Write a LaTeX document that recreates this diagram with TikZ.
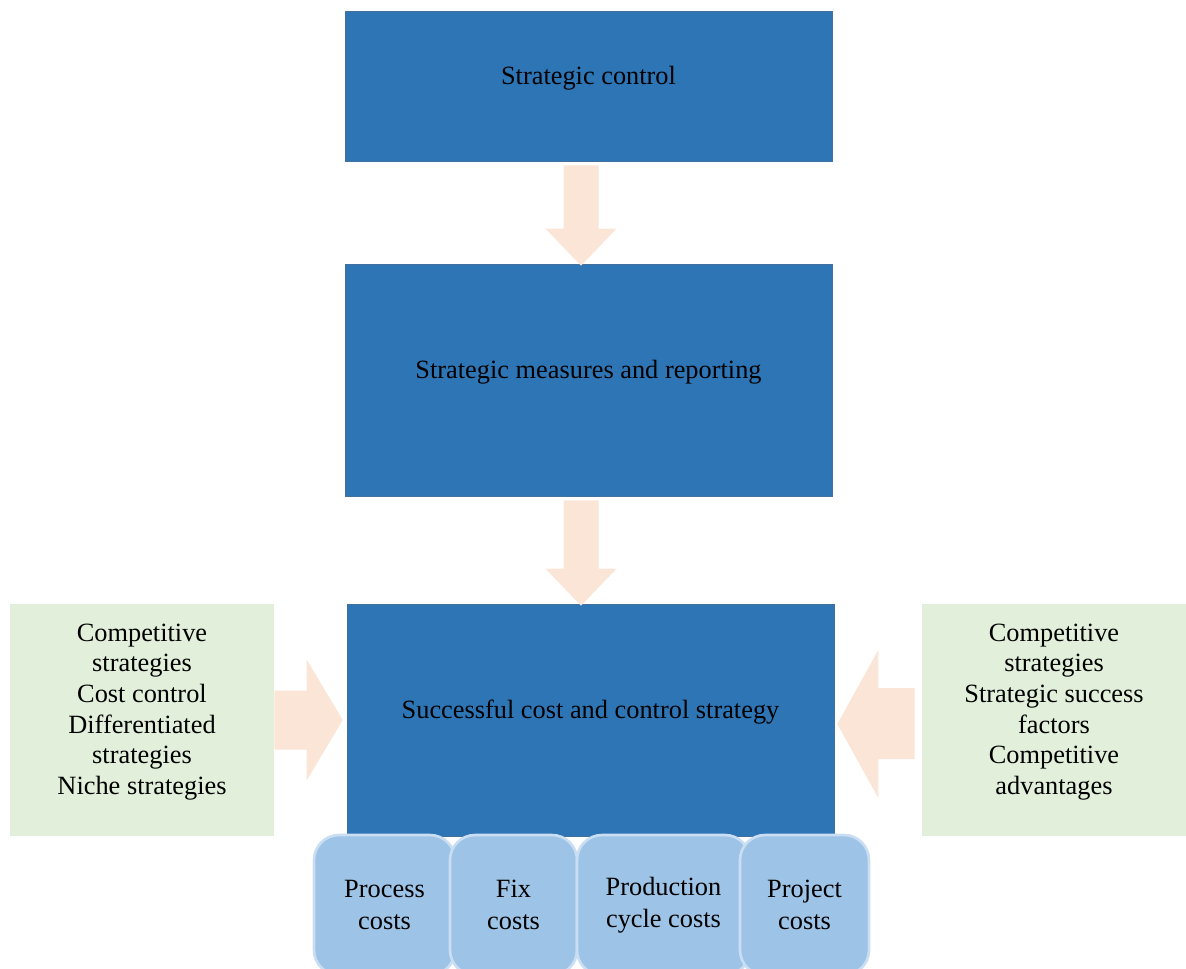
\documentclass[tikz,border=0pt]{standalone}
\usepackage{fontspec}
\setmainfont{Liberation Serif}
\usetikzlibrary{calc}

\definecolor{boxblue}{HTML}{2E75B6}
\definecolor{boxedge}{HTML}{41719C}
\definecolor{arrowpeach}{HTML}{FBE5D6}
\definecolor{sidegreen}{HTML}{E2EFDA}
\definecolor{costblue}{HTML}{9DC3E6}
\definecolor{costedge}{HTML}{C9DEF2}

\begin{document}
\begin{tikzpicture}[x=0.02cm, y=-0.02cm,
  font=\fontsize{15}{17.4}\selectfont,
  mainbox/.style={rectangle, fill=boxblue, draw=boxedge, line width=0.4pt, inner sep=0pt, minimum width=9.74cm, text depth=0.44cm},
  sidebox/.style={rectangle, fill=sidegreen, inner sep=0pt, minimum width=5.28cm, minimum height=4.64cm, align=center, text depth=0.44cm},
  costbox/.style={rectangle, rounded corners=0.5cm, fill=costblue, draw=costedge, line width=1.5pt, inner sep=0pt, minimum height=2.8cm, align=center, font=\fontsize{15}{18.2}\selectfont},
  bigarrow/.style={fill=arrowpeach}]

   \clip (0,0) rectangle (1186,968);

    % Draw the main boxes
    \node[mainbox, minimum height=3.0cm] (ctrl) at (588.5,86) {Strategic control};
    \node[mainbox, minimum height=4.64cm] (meas) at (588.5,380) {Strategic measures and reporting};
    \node[mainbox, minimum height=4.64cm] (succ) at (590.5,720) {Successful cost and control strategy};

    % Draw the side boxes
    \node[sidebox] (lside) at (142,720) {Competitive\\strategies\\Cost control\\Differentiated\\strategies\\Niche strategies};
    \node[sidebox] (rside) at (1054,720) {Competitive\\strategies\\Strategic success\\factors\\Competitive\\advantages};

    % Draw the down arrows
    \foreach \a/\b in {ctrl/meas, meas/succ}{
      \coordinate (top) at ($(\a.south)+(-7.5,4)$);
      \coordinate (tip) at (top |- \b.north);
      \fill[bigarrow] ($(top)+(-17.5,0)$) -- ($(tip)+(-17.5,-35)$) -- ($(tip)+(-35.5,-35)$)
        -- ($(tip)+(0,2)$) -- ($(tip)+(35.5,-35)$) -- ($(tip)+(17.5,-35)$)
        -- ($(top)+(17.5,0)$) -- cycle;
    }

    % Draw the side arrows
    \fill[bigarrow] ($(lside.east)+(0,-29.5)$) -- ($(succ.west)+(-40,-29.5)$) -- ($(succ.west)+(-40,-60.5)$)
      -- ($(succ.west)+(-4,0)$) -- ($(succ.west)+(-40,60.5)$) -- ($(succ.west)+(-40,29.5)$)
      -- ($(lside.east)+(0,29.5)$) -- cycle;
    \fill[bigarrow] ($(rside.west)+(-7,-32)$) -- ($(succ.east)+(44,-32)$) -- ($(succ.east)+(44,-70)$)
      -- ($(succ.east)+(3,4)$) -- ($(succ.east)+(44,78)$) -- ($(succ.east)+(44,39)$)
      -- ($(rside.west)+(-7,39)$) -- cycle;

    % Draw the cost boxes
    \node[costbox, minimum width=2.82cm] (proc) at (384.5,905) {Process\\costs};
    \node[costbox, minimum width=2.54cm] (fix) at (513.5,905) {Fix\\costs};
    \node[costbox, minimum width=3.46cm] (prod) at (663.5,905) {Production\\cycle costs};
    \node[costbox, minimum width=2.58cm] (proj) at (804.5,905) {Project\\costs};

\end{tikzpicture}
\end{document}
